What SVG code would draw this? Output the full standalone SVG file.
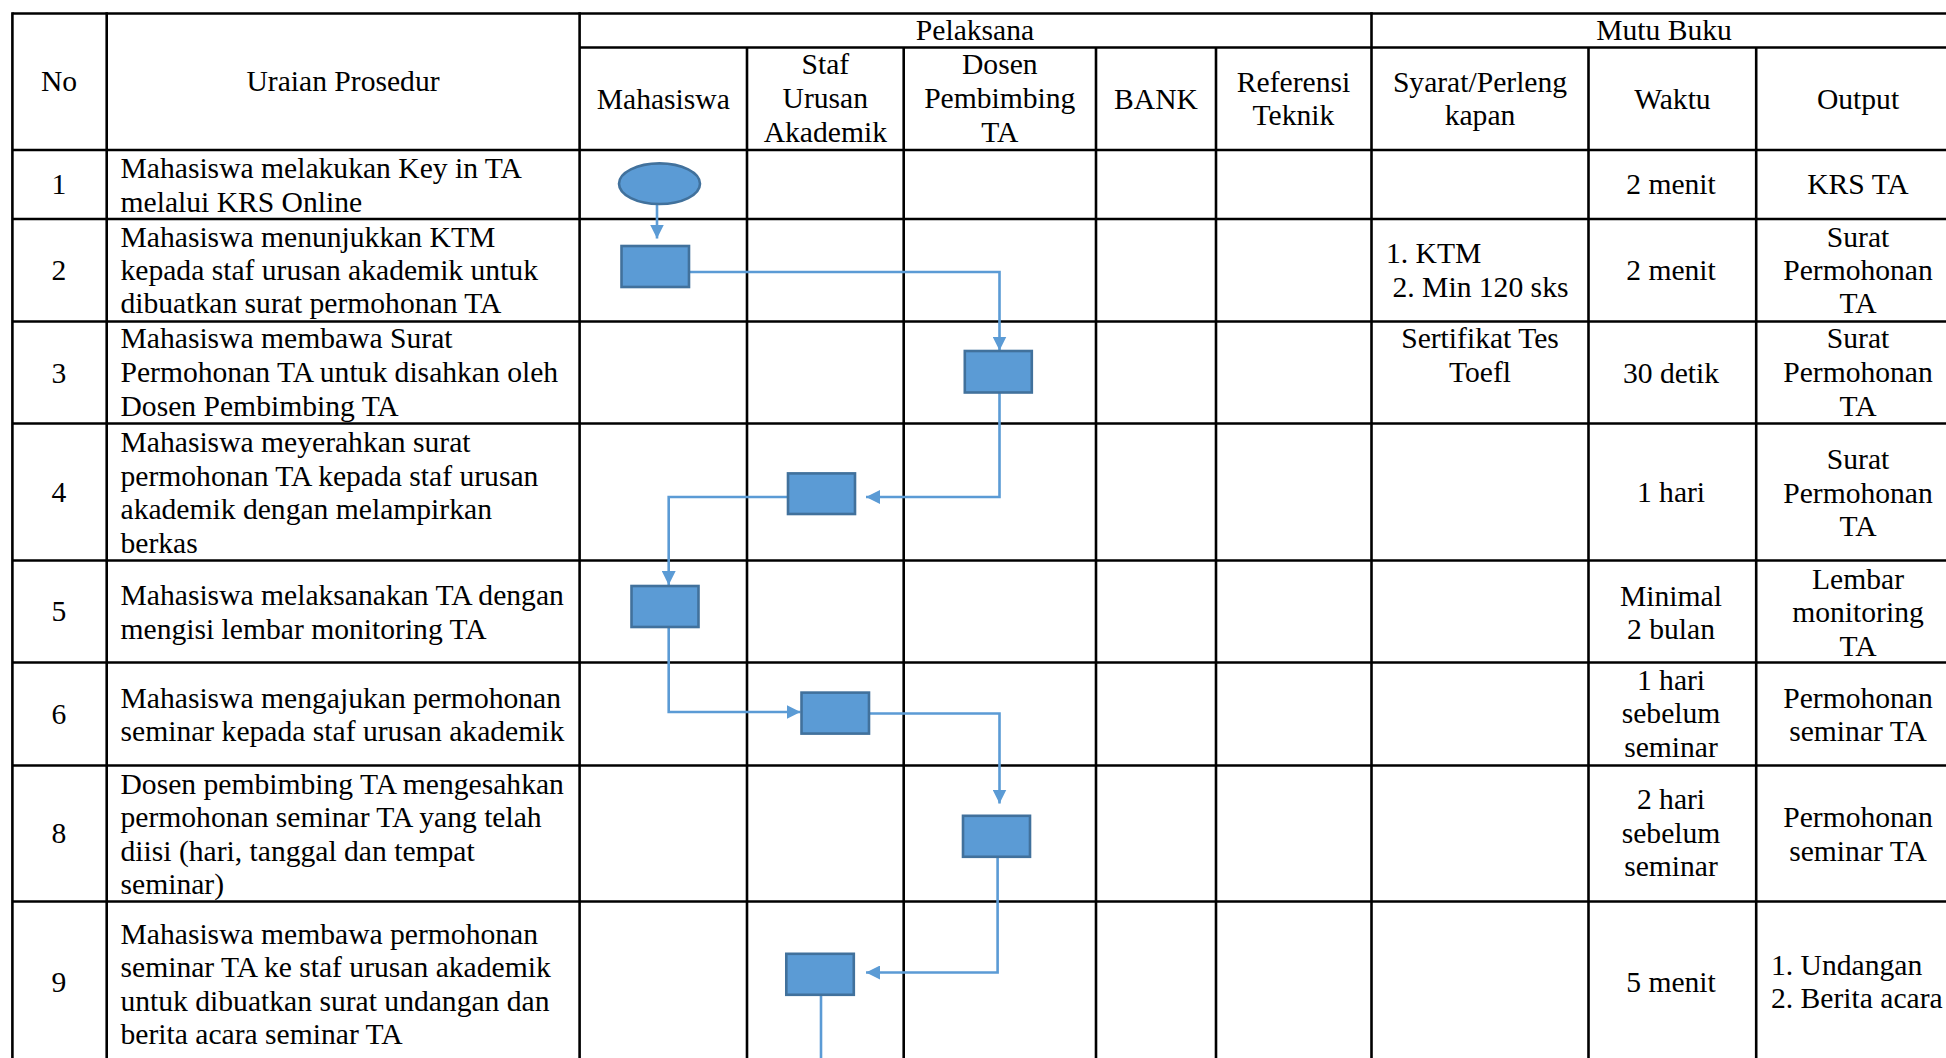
<svg xmlns="http://www.w3.org/2000/svg" width="1946" height="1058" viewBox="0 0 1946 1058">
<defs>
<style>
.g line{stroke:#000;stroke-width:2.6}
text{font-family:"Liberation Serif","Times New Roman",serif;font-size:29.6px;fill:#000}
.c{text-anchor:middle}
.shape{fill:#5B9BD5;stroke:#41719C;stroke-width:2.6}
.conn{fill:none;stroke:#5B9BD5;stroke-width:2.6}
</style>
<marker id="ah" markerUnits="userSpaceOnUse" markerWidth="14" markerHeight="14" viewBox="0 0 10 10" refX="10" refY="5" orient="auto">
<path d="M0,0 L10,5 L0,10 z" fill="#5B9BD5"/>
</marker>
</defs>
<rect width="1946" height="1058" fill="#fff"/>
<g id="table" class="g">
<line x1="12.4" y1="13.5" x2="1960" y2="13.5"/>
<line x1="579.6" y1="47.5" x2="1960" y2="47.5"/>
<line x1="12.4" y1="150" x2="1960" y2="150"/>
<line x1="12.4" y1="219" x2="1960" y2="219"/>
<line x1="12.4" y1="321.5" x2="1960" y2="321.5"/>
<line x1="12.4" y1="423.5" x2="1960" y2="423.5"/>
<line x1="12.4" y1="560.5" x2="1960" y2="560.5"/>
<line x1="12.4" y1="662.5" x2="1960" y2="662.5"/>
<line x1="12.4" y1="765.5" x2="1960" y2="765.5"/>
<line x1="12.4" y1="901.5" x2="1960" y2="901.5"/>
<line x1="12.4" y1="12.2" x2="12.4" y2="1058"/>
<line x1="106.7" y1="12.2" x2="106.7" y2="1058"/>
<line x1="579.6" y1="12.2" x2="579.6" y2="1058"/>
<line x1="747" y1="47.5" x2="747" y2="1058"/>
<line x1="903.7" y1="47.5" x2="903.7" y2="1058"/>
<line x1="1096" y1="47.5" x2="1096" y2="1058"/>
<line x1="1216" y1="47.5" x2="1216" y2="1058"/>
<line x1="1371.5" y1="12.2" x2="1371.5" y2="1058"/>
<line x1="1588.5" y1="47.5" x2="1588.5" y2="1058"/>
<line x1="1756.2" y1="47.5" x2="1756.2" y2="1058"/>
</g>
<g id="header">
<text class="c" x="59" y="91">No</text>
<text class="c" x="343" y="91">Uraian Prosedur</text>
<text class="c" x="975" y="40">Pelaksana</text>
<text class="c" x="1664" y="40">Mutu Buku</text>
<text class="c" x="663.3" y="108.5">Mahasiswa</text>
<text class="c" x="825.3" y="74">Staf</text>
<text class="c" x="825.3" y="108.3">Urusan</text>
<text class="c" x="825.3" y="141.7">Akademik</text>
<text class="c" x="999.8" y="74">Dosen</text>
<text class="c" x="999.8" y="108.3">Pembimbing</text>
<text class="c" x="999.8" y="141.7">TA</text>
<text class="c" x="1156" y="108.5">BANK</text>
<text class="c" x="1293.5" y="91.5">Referensi</text>
<text class="c" x="1293.5" y="125">Teknik</text>
<text class="c" x="1480" y="91.5">Syarat/Perleng</text>
<text class="c" x="1480" y="125">kapan</text>
<text class="c" x="1672.4" y="108.5">Waktu</text>
<text class="c" x="1858" y="108.5">Output</text>
</g>
<g id="numbers">
<text class="c" x="59" y="194.3">1</text>
<text class="c" x="59" y="280">2</text>
<text class="c" x="59" y="382.5">3</text>
<text class="c" x="59" y="501.7">4</text>
<text class="c" x="59" y="621">5</text>
<text class="c" x="59" y="723.5">6</text>
<text class="c" x="59" y="843">8</text>
<text class="c" x="59" y="991.6">9</text>
</g>
<g id="procedures">
<text x="120.5" y="178.3">Mahasiswa melakukan Key in TA</text>
<text x="120.5" y="211.7">melalui KRS Online</text>
<text x="120.5" y="246.7">Mahasiswa menunjukkan KTM</text>
<text x="120.5" y="280">kepada staf urusan akademik untuk</text>
<text x="120.5" y="313.3">dibuatkan surat permohonan TA</text>
<text x="120.5" y="348.3">Mahasiswa membawa Surat</text>
<text x="120.5" y="382">Permohonan TA untuk disahkan oleh</text>
<text x="120.5" y="415.7">Dosen Pembimbing TA</text>
<text x="120.5" y="452">Mahasiswa meyerahkan surat</text>
<text x="120.5" y="485.5">permohonan TA kepada staf urusan</text>
<text x="120.5" y="519">akademik dengan melampirkan</text>
<text x="120.5" y="552.5">berkas</text>
<text x="120.5" y="605">Mahasiswa melaksanakan TA dengan</text>
<text x="120.5" y="638.5">mengisi lembar monitoring TA</text>
<text x="120.5" y="707.5">Mahasiswa mengajukan permohonan</text>
<text x="120.5" y="741">seminar kepada staf urusan akademik</text>
<text x="120.5" y="793.5">Dosen pembimbing TA mengesahkan</text>
<text x="120.5" y="827">permohonan seminar TA yang telah</text>
<text x="120.5" y="860.5">diisi (hari, tanggal dan tempat</text>
<text x="120.5" y="894">seminar)</text>
<text x="120.5" y="943.5">Mahasiswa membawa permohonan</text>
<text x="120.5" y="977">seminar TA ke staf urusan akademik</text>
<text x="120.5" y="1010.5">untuk dibuatkan surat undangan dan</text>
<text x="120.5" y="1044">berita acara seminar TA</text>
</g>
<g id="syarat">
<text x="1386" y="263">1. KTM</text>
<text x="1392.5" y="296.5">2. Min 120 sks</text>
<text class="c" x="1480" y="348.3">Sertifikat Tes</text>
<text class="c" x="1480" y="382">Toefl</text>
</g>
<g id="waktu">
<text class="c" x="1671" y="194.3">2 menit</text>
<text class="c" x="1671" y="280">2 menit</text>
<text class="c" x="1671" y="382.5">30 detik</text>
<text class="c" x="1671" y="502">1 hari</text>
<text class="c" x="1671" y="605.6">Minimal</text>
<text class="c" x="1671" y="639.2">2 bulan</text>
<text class="c" x="1671" y="689.5">1 hari</text>
<text class="c" x="1671" y="723">sebelum</text>
<text class="c" x="1671" y="756.7">seminar</text>
<text class="c" x="1671" y="809">2 hari</text>
<text class="c" x="1671" y="842.7">sebelum</text>
<text class="c" x="1671" y="876.2">seminar</text>
<text class="c" x="1671" y="991.6">5 menit</text>
</g>
<g id="output">
<text class="c" x="1858" y="194.3">KRS TA</text>
<text class="c" x="1858" y="246.7">Surat</text>
<text class="c" x="1858" y="280">Permohonan</text>
<text class="c" x="1858" y="313.3">TA</text>
<text class="c" x="1858" y="348.3">Surat</text>
<text class="c" x="1858" y="382">Permohonan</text>
<text class="c" x="1858" y="415.7">TA</text>
<text class="c" x="1858" y="469">Surat</text>
<text class="c" x="1858" y="502.8">Permohonan</text>
<text class="c" x="1858" y="536.4">TA</text>
<text class="c" x="1858" y="588.8">Lembar</text>
<text class="c" x="1858" y="622.4">monitoring</text>
<text class="c" x="1858" y="656">TA</text>
<text class="c" x="1858" y="708.4">Permohonan</text>
<text class="c" x="1858" y="740.7">seminar TA</text>
<text class="c" x="1858" y="827.2">Permohonan</text>
<text class="c" x="1858" y="860.7">seminar TA</text>
<text x="1771" y="975">1. Undangan</text>
<text x="1771" y="1008.4">2. Berita acara</text>
</g>
<g id="connectors">
<path class="conn" d="M657,204 V238.5" marker-end="url(#ah)"/>
<path class="conn" d="M689,272 H999.5 V350.5" marker-end="url(#ah)"/>
<path class="conn" d="M999.5,392.5 V497 H866" marker-end="url(#ah)"/>
<path class="conn" d="M788,497 H668.7 V585" marker-end="url(#ah)"/>
<path class="conn" d="M668.7,627 V712 H800.5" marker-end="url(#ah)"/>
<path class="conn" d="M869,713.5 H999.5 V803.5" marker-end="url(#ah)"/>
<path class="conn" d="M997.6,857 V972.5 H866" marker-end="url(#ah)"/>
<path class="conn" d="M821,995 V1058"/>
</g>
<g id="n1"><ellipse class="shape" cx="659.5" cy="183.7" rx="40.5" ry="20.3"/></g>
<g id="n2"><rect class="shape" x="621.5" y="246" width="67.5" height="41"/></g>
<g id="n3"><rect class="shape" x="964.8" y="351" width="67" height="41.5"/></g>
<g id="n4"><rect class="shape" x="788" y="473.4" width="67" height="40.6"/></g>
<g id="n5"><rect class="shape" x="631.5" y="586" width="67" height="41"/></g>
<g id="n6"><rect class="shape" x="801.5" y="692.6" width="67.5" height="41"/></g>
<g id="n8"><rect class="shape" x="963" y="815.8" width="67" height="41"/></g>
<g id="n9"><rect class="shape" x="786.3" y="953.8" width="67.5" height="41"/></g>
</svg>
